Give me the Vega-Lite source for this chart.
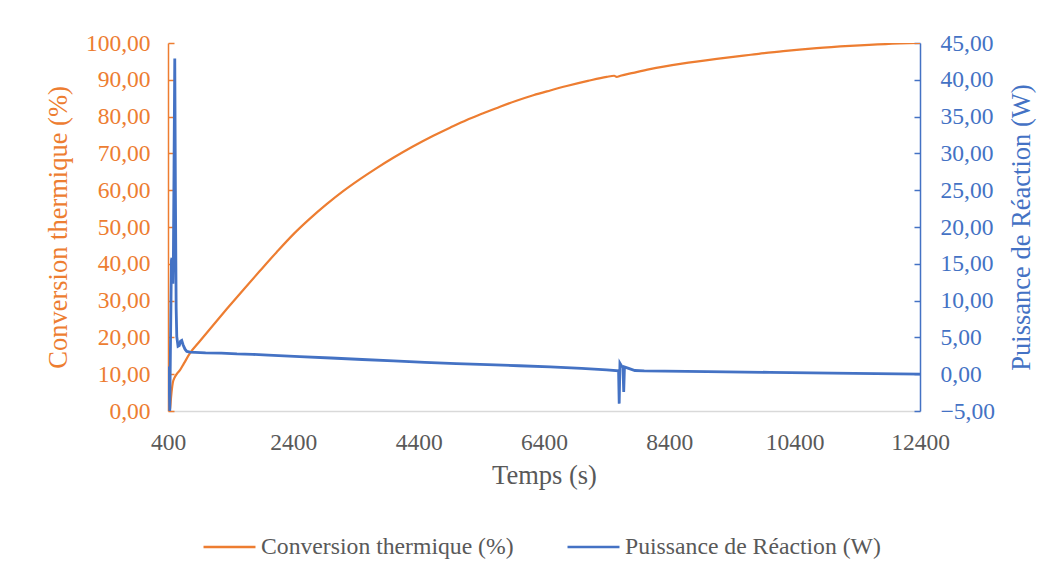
{
  "$schema": "https://vega.github.io/schema/vega-lite/v6.json",
  "width": 752,
  "height": 368,
  "autosize": {"type": "none"},
  "padding": {"left": 168, "top": 43, "right": 134, "bottom": 166},
  "background": "white",
  "config": {
    "view": {"stroke": null},
    "font": "Liberation Serif",
    "axis": {"grid": false, "labelFont": "Liberation Serif", "titleFont": "Liberation Serif", "titleFontWeight": "normal"},
    "legend": {"labelFont": "Liberation Serif"}
  },
  "datasets": {
    "conv": [
      {"t": 400, "v": 0.0}, {"t": 432, "v": 0.5}, {"t": 450, "v": 4.0}, {"t": 475, "v": 7.5},
      {"t": 512, "v": 9.3}, {"t": 550, "v": 10.3}, {"t": 591, "v": 11.1}, {"t": 650, "v": 12.8},
      {"t": 751, "v": 15.7}, {"t": 900, "v": 18.8}, {"t": 1070, "v": 22.3}, {"t": 1337, "v": 27.7},
      {"t": 1600, "v": 32.9}, {"t": 1868, "v": 38.1}, {"t": 2130, "v": 43.1}, {"t": 2399, "v": 48.0},
      {"t": 2660, "v": 52.2}, {"t": 2932, "v": 56.2}, {"t": 3200, "v": 59.8}, {"t": 3464, "v": 63.0},
      {"t": 3730, "v": 66.0}, {"t": 3995, "v": 68.8}, {"t": 4300, "v": 71.8}, {"t": 4633, "v": 74.8},
      {"t": 4900, "v": 77.0}, {"t": 5166, "v": 79.1}, {"t": 5430, "v": 80.9}, {"t": 5698, "v": 82.7},
      {"t": 5960, "v": 84.3}, {"t": 6229, "v": 85.8}, {"t": 6500, "v": 87.1}, {"t": 6762, "v": 88.3},
      {"t": 7100, "v": 89.7}, {"t": 7400, "v": 90.8}, {"t": 7520, "v": 91.1}, {"t": 7560, "v": 90.8},
      {"t": 7620, "v": 91.1}, {"t": 7825, "v": 91.9}, {"t": 8091, "v": 92.9}, {"t": 8600, "v": 94.4},
      {"t": 9156, "v": 95.7}, {"t": 9700, "v": 96.8}, {"t": 10218, "v": 97.8}, {"t": 10750, "v": 98.6},
      {"t": 11283, "v": 99.2}, {"t": 11850, "v": 99.7}, {"t": 12400, "v": 100.0}
    ],
    "puis": [
      {"t": 400, "v": 1.0}, {"t": 415, "v": 0.8}, {"t": 428, "v": -5.0}, {"t": 445, "v": 8.0},
      {"t": 455, "v": 15.5}, {"t": 463, "v": 15.8}, {"t": 470, "v": 13.0}, {"t": 478, "v": 12.3},
      {"t": 486, "v": 16.0}, {"t": 496, "v": 28.0}, {"t": 508, "v": 42.9}, {"t": 518, "v": 25.0},
      {"t": 530, "v": 9.0}, {"t": 540, "v": 5.1}, {"t": 560, "v": 3.8}, {"t": 580, "v": 3.9},
      {"t": 600, "v": 4.5}, {"t": 619, "v": 4.6}, {"t": 640, "v": 4.0}, {"t": 671, "v": 3.4},
      {"t": 700, "v": 3.1}, {"t": 751, "v": 3.0}, {"t": 1000, "v": 2.9}, {"t": 1250, "v": 2.85},
      {"t": 1500, "v": 2.75}, {"t": 1750, "v": 2.7}, {"t": 2000, "v": 2.6}, {"t": 2500, "v": 2.4},
      {"t": 3000, "v": 2.2}, {"t": 3500, "v": 2.0}, {"t": 4000, "v": 1.8}, {"t": 4500, "v": 1.6},
      {"t": 5000, "v": 1.45}, {"t": 5500, "v": 1.3}, {"t": 6000, "v": 1.15}, {"t": 6500, "v": 1.0},
      {"t": 7000, "v": 0.8}, {"t": 7400, "v": 0.6}, {"t": 7590, "v": 0.45}, {"t": 7600, "v": -4.0},
      {"t": 7612, "v": 1.5}, {"t": 7640, "v": 1.1}, {"t": 7660, "v": 1.0}, {"t": 7672, "v": -2.4},
      {"t": 7684, "v": 1.0}, {"t": 7750, "v": 0.8}, {"t": 7850, "v": 0.5}, {"t": 8000, "v": 0.45},
      {"t": 9000, "v": 0.35}, {"t": 10000, "v": 0.25}, {"t": 11000, "v": 0.15}, {"t": 12400, "v": 0.0}
    ]
  },
  "layer": [
    {
      "data": {"name": "conv"},
      "mark": {"type": "line", "strokeWidth": 2.2, "interpolate": "monotone", "clip": true},
      "encoding": {
        "x": {
          "field": "t", "type": "quantitative",
          "scale": {"domain": [400, 12400], "nice": false, "zero": false},
          "axis": {
            "values": [400, 2400, 4400, 6400, 8400, 10400, 12400],
            "format": "d",
            "title": "Temps (s)",
            "domainColor": "#D9D9D9", "domainWidth": 1.5,
            "ticks": false,
            "labelColor": "#595959", "labelFontSize": 23.5, "labelPadding": 19,
            "titleColor": "#595959", "titleFontSize": 26.5, "titlePadding": 9,
            "labelFlush": false
          }
        },
        "y": {
          "field": "v", "type": "quantitative",
          "scale": {"domain": [0, 100], "nice": false},
          "axis": {
            "values": [0, 10, 20, 30, 40, 50, 60, 70, 80, 90, 100],
            "labelExpr": "replace(format(datum.value, '.2f'), '.', ',')",
            "title": "Conversion thermique (%)",
            "domainColor": "#ED7D31", "domainWidth": 1.5,
            "tickColor": "#ED7D31", "tickSize": -6, "tickWidth": 1.5,
            "labelColor": "#ED7D31", "labelFontSize": 23.5, "labelPadding": 24,
            "titleColor": "#ED7D31", "titleFontSize": 26.5, "titlePadding": 13
          }
        },
        "color": {
          "datum": "Conversion thermique (%)",
          "type": "nominal",
          "scale": {"domain": ["Conversion thermique (%)", "Puissance de Réaction (W)"], "range": ["#ED7D31", "#4472C4"]},
          "legend": {
            "title": null, "orient": "none", "direction": "horizontal",
            "legendX": 34, "legendY": 476,
            "symbolType": "stroke", "symbolSize": 2700, "symbolStrokeWidth": 2.5,
            "labelFontSize": 23.7, "labelColor": "#595959", "labelLimit": 0, "columnPadding": 48,
            "labelOffset": 4
          }
        }
      }
    },
    {
      "data": {"name": "puis"},
      "mark": {"type": "line", "strokeWidth": 2.8, "clip": true},
      "encoding": {
        "x": {"field": "t", "type": "quantitative"},
        "y": {
          "field": "v", "type": "quantitative",
          "scale": {"domain": [-5, 45], "nice": false, "zero": false},
          "axis": {
            "orient": "right",
            "values": [-5, 0, 5, 10, 15, 20, 25, 30, 35, 40, 45],
            "labelExpr": "replace(format(datum.value, '.2f'), '.', ',')",
            "title": "Puissance de Réaction (W)",
            "titleAngle": 270,
            "titleX": 101,
            "titleY": 184,
            "titleBaseline": "middle",
            "titleAlign": "center",
            "domainColor": "#4472C4", "domainWidth": 1.5,
            "tickColor": "#4472C4", "tickSize": -6, "tickWidth": 1.5,
            "labelColor": "#4472C4", "labelFontSize": 23.5, "labelPadding": 26,
            "titleColor": "#4472C4", "titleFontSize": 26.5
          }
        },
        "color": {"datum": "Puissance de Réaction (W)", "type": "nominal"}
      }
    }
  ],
  "resolve": {"scale": {"y": "independent"}}
}
